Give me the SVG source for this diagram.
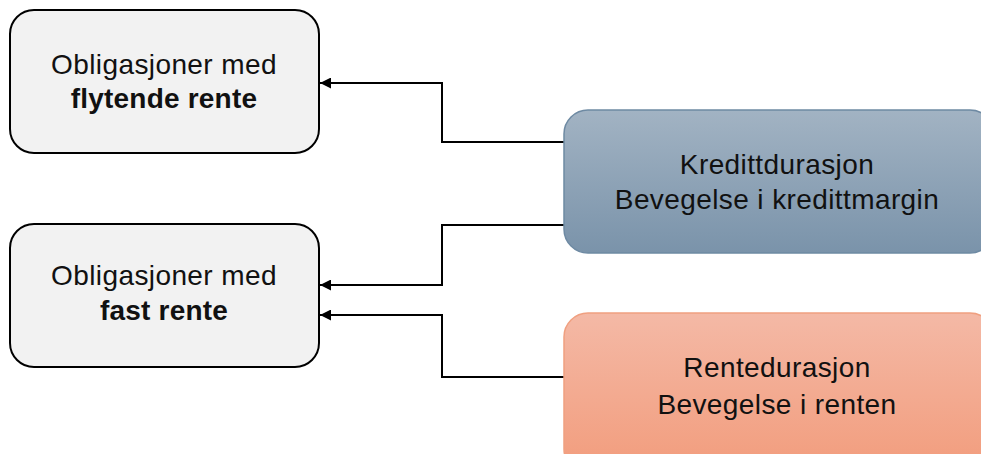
<svg xmlns="http://www.w3.org/2000/svg" width="981" height="454" viewBox="0 0 981 454">
<defs>
<linearGradient id="gBlue" x1="0" y1="0" x2="0" y2="1"><stop offset="0" stop-color="#a2b3c3"/><stop offset="1" stop-color="#7a93aa"/></linearGradient>
<linearGradient id="gOrange" x1="0" y1="0" x2="0" y2="1"><stop offset="0" stop-color="#f4b9a6"/><stop offset="1" stop-color="#f29c7c"/></linearGradient>
<marker id="arr" viewBox="0 0 10 10" refX="10" refY="5" markerWidth="11" markerHeight="11" markerUnits="userSpaceOnUse" orient="auto"><path d="M0,0 L10,5 L0,10 z" fill="#000"/></marker>
</defs>
<style>
.gray{fill:#f2f2f2;stroke:#000;stroke-width:2}
.blue{fill:url(#gBlue);stroke:#6e8aa3;stroke-width:1.5}
.orange{fill:url(#gOrange);stroke:#f0a080;stroke-width:1.5}
.t{font-family:"Liberation Sans",Arial,sans-serif;font-size:28px;letter-spacing:0.4px;fill:#111;text-anchor:middle}
.b{font-weight:bold;letter-spacing:0.2px}
.c{fill:none;stroke:#000;stroke-width:2;marker-end:url(#arr)}
</style>
<rect width="981" height="454" fill="#fff"/>
<g id="connectors">
<path class="c" d="M564,142 H442 V83 H320"/>
<path class="c" d="M564,225 H442 V285 H320"/>
<path class="c" d="M564,377 H442 V315 H320"/>
</g>
<g id="floating">
<rect class="gray" x="10" y="10" width="309" height="143" rx="24"/>
<text class="t" x="164" y="74">Obligasjoner med</text>
<text class="t b" x="164" y="108">flytende rente</text>
</g>
<g id="fixed">
<rect class="gray" x="10" y="224" width="309" height="143" rx="24"/>
<text class="t" x="164" y="285">Obligasjoner med</text>
<text class="t b" x="164" y="320">fast rente</text>
</g>
<g id="credit">
<rect class="blue" x="564" y="110" width="430" height="143" rx="24"/>
<text class="t" x="777" y="174">Kredittdurasjon</text>
<text class="t" x="777" y="209">Bevegelse i kredittmargin</text>
</g>
<g id="rate">
<rect class="orange" x="564" y="313" width="430" height="160" rx="24"/>
<text class="t" x="777" y="377">Rentedurasjon</text>
<text class="t" x="777" y="414">Bevegelse i renten</text>
</g>
</svg>
